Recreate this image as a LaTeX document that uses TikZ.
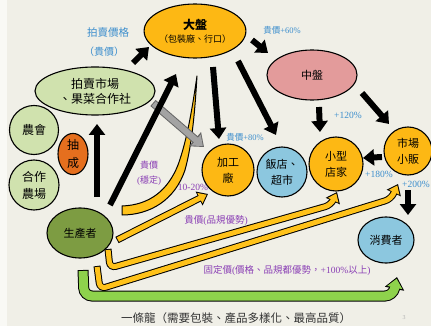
\documentclass[tikz,border=0pt]{standalone}
\usepackage{fontspec}
\setmainfont{Liberation Serif}
\newfontfamily\cjk{Noto Sans CJK TC}
\usetikzlibrary{shapes.geometric,arrows.meta}
\definecolor{bgc}{HTML}{F0EFE7}
\definecolor{gold}{HTML}{FDB814}
\definecolor{pinkc}{HTML}{E39B9B}
\definecolor{lgreen}{HTML}{D0E2AE}
\definecolor{dgreen}{HTML}{7D9C42}
\definecolor{orangec}{HTML}{E56F1E}
\definecolor{lblue}{HTML}{8CC7DF}
\definecolor{yel}{HTML}{FFC21A}
\definecolor{grn}{HTML}{8ED24C}
\definecolor{grayf}{HTML}{A3A3A3}
\definecolor{grayd}{HTML}{666666}
\definecolor{bluet}{HTML}{3C8ECD}
\definecolor{purpt}{HTML}{8A3FB5}
\newcommand\yband[1]{\draw[ybk] #1; \draw[yfg] #1;}
\newcommand\gband[1]{\draw[gbk] #1; \draw[gfg] #1;}
\begin{document}
\begin{tikzpicture}[x=1pt,y=-1pt,
  ell/.style={ellipse, draw=black, line width=1.1pt, inner sep=0pt, align=center,
    font=\cjk\fontsize{11}{16}\selectfont},
  circ/.style={circle, draw=black, line width=1.1pt, inner sep=0pt, align=center,
    font=\cjk\fontsize{11}{16}\selectfont},
  fat/.style={line width=6pt, -{Triangle[width=16pt,length=11pt]}},
  ybk/.style={black, line width=7pt, rounded corners=6pt, -{Triangle[width=15pt,length=10pt]}},
  yfg/.style={yel, line width=5pt, rounded corners=6pt, shorten >=1.6pt, shorten <=1pt,
    -{Triangle[width=11pt,length=7.5pt]}},
  gbk/.style={black, line width=11pt, rounded corners=8pt, -{Triangle[width=19pt,length=12pt]}},
  gfg/.style={grn, line width=9pt, rounded corners=8pt, shorten >=1.8pt, shorten <=1pt,
    -{Triangle[width=15pt,length=9pt]}},
  bl/.style={text=bluet, inner sep=0pt},
  pu/.style={text=purpt, inner sep=0pt, align=center}]
\fill[bgc] (0,0) rectangle (431,326);
\fill[white!60!bgc] (0,0) rectangle (7,326);
\useasboundingbox (0,0) rectangle (431,326);

% nodes
\node[ell, fill=gold, minimum width=92pt, minimum height=54pt] (dp) at (195,31)
  {{\fontsize{12}{14}\selectfont\bfseries 大盤}\\[-3pt]{\fontsize{9}{11}\selectfont （包裝廠、行口）}};
\node[ell, fill=pinkc, minimum width=90pt, minimum height=50pt] (zp) at (312,75) {中盤};
\node[ell, fill=lgreen, minimum width=120pt, minimum height=48pt,
  font=\cjk\fontsize{12}{15}\selectfont] (pm) at (95,91) {拍賣市場\\、果菜合作社};
\node[circ, fill=lgreen, minimum size=49pt, font=\cjk\fontsize{12}{17}\selectfont] (nh) at (34,130) {農會};
\node[circ, fill=lgreen, minimum size=50pt, font=\cjk\fontsize{12}{17}\selectfont] (hz) at (34,185) {合作\\農場};
\node[ell, fill=orangec, minimum width=30pt, minimum height=40pt, font=\cjk\fontsize{12}{18}\selectfont] (cc) at (73,154) {抽\\成};
\node[ell, fill=dgreen, minimum width=66pt, minimum height=50pt] (sc) at (80,233) {生產者};
\node[circ, fill=gold, minimum size=52pt] (jg) at (228,170) {加工\\廠};
\node[circ, fill=lblue, minimum size=50pt] (fd) at (282,172) {飯店、\\超市};
\node[circ, fill=gold, minimum size=54pt] (xx) at (336,164) {小型\\店家};
\node[circ, fill=gold, minimum size=48pt] (sf) at (408,151) {市場\\小販};
\node[ell, fill=lblue, minimum width=56pt, minimum height=46pt] (xf) at (386,240) {消費者};

% yellow J-shaped arrow (貴價 穩定)
\filldraw[fill=yel, draw=black, line width=1pt, line join=round]
  (122,215) .. controls (150,215) and (175,200) .. (185,170)
  .. controls (192,145) and (195,110) .. (197,76)
  .. controls (192,110) and (187,140) .. (178,165)
  .. controls (168,190) and (150,205) .. (122,206) -- cycle;

% yellow and green bands
\yband{([shift={(37,7)}]sc.center) -- ([shift={(-20,24)}]jg.center)}
\yband{([shift={(28,16)}]sc.center) -- (110,268) -- (331,205) -- ([shift={(1,28)}]xx.center)}
\yband{([shift={(17,33)}]sc.center) -- (100,289) -- (391,199) -- ([shift={(-10,33)}]sf.center)}
\gband{([shift={(3,37)}]sc.center) -- (84,296) -- (393,296) -- ([shift={(11,37)}]xf.center)}

% gray arrow
\draw[grayd, line width=8pt, -{Triangle[width=18pt,length=12pt]}]
  ([shift={(58,12)}]pm.center) -- ([shift={(-24,-23)}]jg.center);
\draw[grayf, line width=6pt, shorten >=1.6pt, shorten <=1pt, -{Triangle[width=14pt,length=9pt]}]
  ([shift={(58,12)}]pm.center) -- ([shift={(-24,-23)}]jg.center);

% black arrows
\draw[fat] ([shift={(38,-28)}]pm.center) -- ([shift={(-46,16)}]dp.center);
\draw[fat] ([shift={(30,-28)}]sc.center) -- ([shift={(-19,43)}]dp.center);
\draw[fat] ([shift={(17,-36)}]sc.center) -- ([shift={(2,33)}]pm.center);
\draw[fat] ([shift={(18,36)}]dp.center) -- ([shift={(-9,-31)}]jg.center);
\draw[fat] ([shift={(43,30)}]dp.center) -- ([shift={(-6,-37)}]fd.center);
\draw[fat] ([shift={(57,9)}]dp.center) -- ([shift={(-44,-22)}]zp.center);
\draw[fat] ([shift={(7,32)}]zp.center) -- ([shift={(-16,-32)}]xx.center);
\draw[fat] ([shift={(50,18)}]zp.center) -- ([shift={(-19,-27)}]sf.center);
\draw[fat] ([shift={(-26,6)}]sf.center) -- ([shift={(27,-6)}]xx.center);
\draw[fat] ([shift={(0,39)}]sf.center) -- ([shift={(22,-25)}]xf.center);

% labels
\node[bl, font=\cjk\fontsize{10.5}{12}\selectfont] (l1) at (108,33) {拍賣價格};
\node[bl, font=\cjk\fontsize{10}{12}\selectfont] (l2) at (104,52) {（貴價）};
\node[bl, font=\fontsize{8.5}{10}\selectfont] (l3) at (282,30) {{\cjk 貴價}+60\%};
\node[bl, font=\fontsize{9.5}{11}\selectfont] (l4) at (348,115) {+120\%};
\node[bl, font=\fontsize{8.5}{10}\selectfont] (l5) at (245,137) {{\cjk 貴價}+80\%};
\node[bl, font=\fontsize{9.5}{11}\selectfont] (l6) at (379,174) {+180\%};
\node[bl, font=\fontsize{9.5}{11}\selectfont] (l7) at (416,184) {+200\%};
\node[pu, font=\fontsize{9}{15}\selectfont] (l8) at (149,173) {{\cjk 貴價}\\({\cjk 穩定})};
\node[pu, font=\fontsize{9.5}{11}\selectfont] (l9) at (193,187) {10-20\%};
\node[pu, font=\fontsize{9.5}{11}\selectfont] (l10) at (216,221) {{\cjk 貴價}({\cjk 品規優勢})};
\node[pu, font=\fontsize{9.5}{11}\selectfont] (l11) at (287,270)
  {{\cjk 固定價}({\cjk 價格、品規都優勢，}+100\%{\cjk 以上})};
\node[text=black!80, inner sep=0pt, font=\cjk\fontsize{11.5}{13}\selectfont] (l12) at (236,318)
  {一條龍（需要包裝、產品多樣化、最高品質）};
\node[text=black!30, inner sep=0pt, font=\fontsize{6}{7}\selectfont] (l13) at (404,318) {3};
\end{tikzpicture}
\end{document}
